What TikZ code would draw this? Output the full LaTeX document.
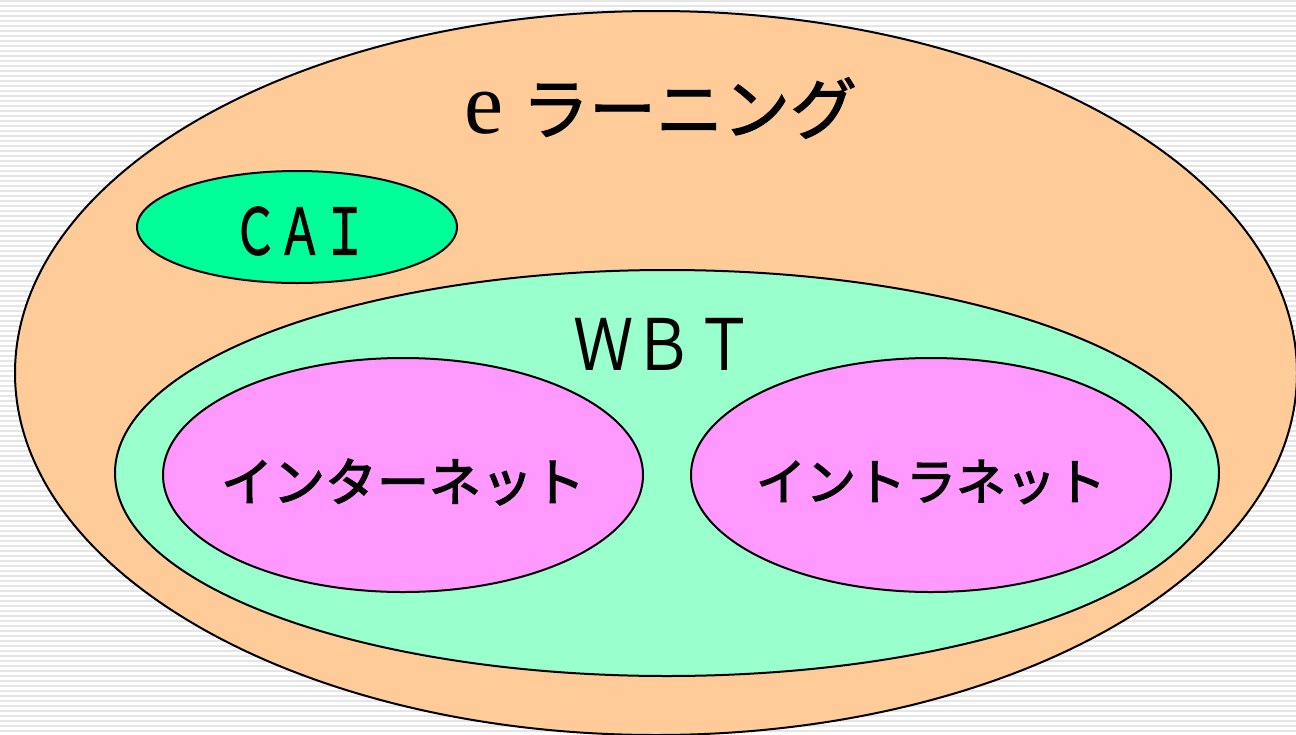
\documentclass[tikz,border=0pt]{standalone}
\usepackage{fontspec}
\newfontfamily\jp{Noto Sans CJK JP}
\newfontfamily\jpm[FakeBold=2.5]{Noto Sans CJK JP}
\newfontfamily\jph[FakeBold=1.8]{Noto Sans CJK JP}
\newfontfamily\eserif{Liberation Serif}
\definecolor{peach}{HTML}{FFCC99}
\definecolor{caigreen}{HTML}{00FF99}
\definecolor{wbtgreen}{HTML}{99FFCC}
\definecolor{pinkish}{HTML}{FF99FF}
\definecolor{stripe}{HTML}{E6E6E6}
\tikzset{
  blob/.style={draw=black, line width=1pt},
  lbl/.style={inner sep=0pt, text=black},
}
\begin{document}
\begin{tikzpicture}[x=0.5pt,y=-0.5pt]
\useasboundingbox (0,0) rectangle (1296,734);
\clip (0,0) rectangle (1296,734);
\fill[white] (0,0) rectangle (1296,734);
\foreach \k in {0,...,147} {
  \fill[stripe] (0,{\k*5}) rectangle (1296,{\k*5+2});
}
% outer ellipse
\path[blob, fill=peach] (656,373) ellipse [x radius=641, y radius=362];
\node[lbl] (elearn) at (661,108) {{\eserif\fontsize{44pt}{44pt}\selectfont e}\hspace{9pt}{\jph\fontsize{33.5pt}{33.5pt}\selectfont ラーニング}};
% CAI
\path[blob, fill=caigreen] (297,227) ellipse [x radius=160, y radius=56];
\node[lbl] (cai) at (300,231) {\scalebox{0.7}[1]{\jph\fontsize{32pt}{32pt}\selectfont ＣＡＩ}};
% WBT
\path[blob, fill=wbtgreen] (667,473) ellipse [x radius=552, y radius=203];
\node[lbl] (wbt) at (664,344) {\scalebox{0.85}[1]{\jp\fontsize{35.5pt}{35.5pt}\selectfont ＷＢＴ}};
% internet
\path[blob, fill=pinkish] (403,475) ellipse [x radius=240, y radius=117];
\node[lbl] (inet) at (403,482) {\jpm\fontsize{26pt}{26pt}\selectfont インターネット};
% intranet
\path[blob, fill=pinkish] (931,475) ellipse [x radius=240, y radius=117];
\node[lbl] (intra) at (931,482) {\jpm\fontsize{25pt}{25pt}\selectfont イントラネット};
\end{tikzpicture}
\end{document}
